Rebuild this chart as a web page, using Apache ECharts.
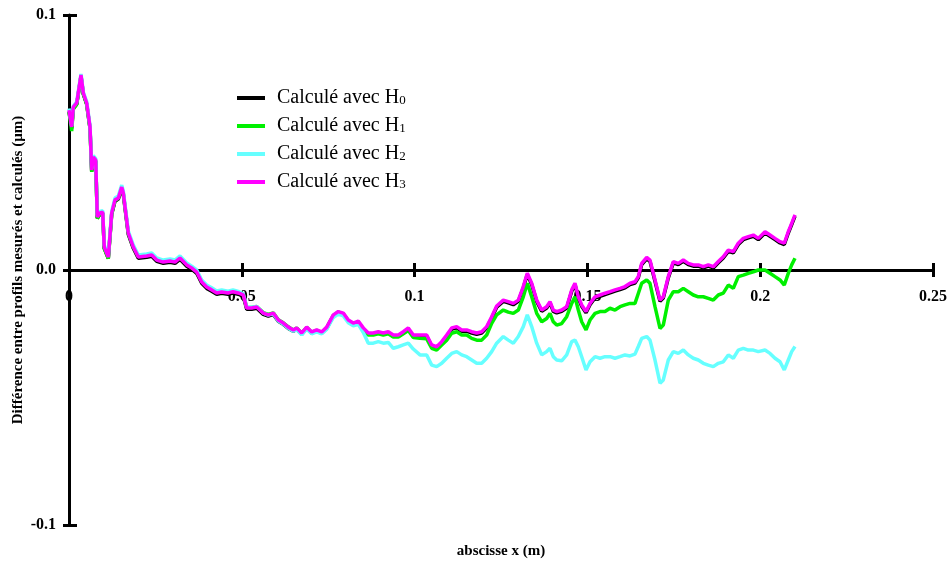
<!DOCTYPE html>
<html><head><meta charset="utf-8">
<script src="https://cdn.jsdelivr.net/npm/echarts@6/dist/echarts.min.js"></script>
<style>html,body{margin:0;padding:0;background:#fff}#c{width:951px;height:569px}</style>
</head><body><div id="c"></div>
<script>
var xs = [0,0.00078,0.00124,0.00223,0.00347,0.00414,0.00512,0.00608,0.00657,0.00703,0.00773,0.00819,0.00897,0.00975,0.01021,0.01137,0.01236,0.01331,0.01427,0.01525,0.01571,0.01716,0.01861,0.02005,0.02248,0.02393,0.02538,0.02729,0.02923,0.03067,0.03212,0.03406,0.0355,0.03695,0.0384,0.03984,0.04129,0.04274,0.04418,0.04601,0.04745,0.04899,0.05043,0.05142,0.05286,0.05431,0.05622,0.05767,0.05911,0.06056,0.06201,0.06345,0.0649,0.06589,0.06733,0.06878,0.07023,0.07167,0.07312,0.07457,0.07648,0.07792,0.07937,0.08082,0.08226,0.08371,0.08516,0.0866,0.08805,0.0895,0.09094,0.09239,0.09384,0.09528,0.09673,0.09818,0.09962,0.10156,0.1035,0.10495,0.10639,0.10784,0.10929,0.11073,0.11218,0.11363,0.11507,0.11652,0.11797,0.11941,0.12086,0.12231,0.12375,0.12566,0.12711,0.12856,0.13001,0.13145,0.13261,0.13388,0.13533,0.13678,0.13822,0.13918,0.14013,0.14112,0.14256,0.14401,0.14546,0.14641,0.14737,0.14835,0.1496,0.15076,0.1522,0.15365,0.1551,0.15654,0.15799,0.15944,0.16088,0.16233,0.16377,0.16473,0.16571,0.16716,0.16811,0.16956,0.17101,0.17196,0.17341,0.17486,0.1763,0.17775,0.1792,0.18064,0.18209,0.18354,0.18498,0.18643,0.18788,0.18932,0.19077,0.19222,0.19366,0.19511,0.19656,0.19801,0.19945,0.20139,0.20284,0.20428,0.20573,0.20697,0.20813,0.20911,0.21007];

var h0 = [0.0622,0.0555,0.0634,0.065,0.0761,0.069,0.065,0.0556,0.0387,0.0438,0.0426,0.0203,0.0219,0.0222,0.0085,0.0046,0.0219,0.027,0.0278,0.032,0.0297,0.014,0.0085,0.0046,0.005,0.0054,0.0034,0.0026,0.003,0.0026,0.0042,0.0015,0.0003,-0.0013,-0.0052,-0.0072,-0.0083,-0.0095,-0.0091,-0.0095,-0.009,-0.0095,-0.0103,-0.0154,-0.0154,-0.015,-0.0174,-0.0181,-0.0174,-0.0201,-0.0213,-0.0229,-0.024,-0.0232,-0.0252,-0.0229,-0.0248,-0.024,-0.0248,-0.0229,-0.0181,-0.0168,-0.0174,-0.0201,-0.0213,-0.0205,-0.0232,-0.0252,-0.0252,-0.0247,-0.0252,-0.0247,-0.026,-0.026,-0.0247,-0.0232,-0.026,-0.026,-0.026,-0.0299,-0.0306,-0.0286,-0.026,-0.0232,-0.0227,-0.024,-0.024,-0.0247,-0.0252,-0.0247,-0.0227,-0.0188,-0.0146,-0.0123,-0.0129,-0.0136,-0.0123,-0.007,-0.0018,-0.0057,-0.0123,-0.0162,-0.0149,-0.0129,-0.0162,-0.0168,-0.0162,-0.0149,-0.0083,-0.0057,-0.011,-0.0142,-0.0168,-0.0136,-0.011,-0.0103,-0.0096,-0.009,-0.0083,-0.0077,-0.007,-0.0057,-0.0051,-0.0031,0.0021,0.0044,0.0034,-0.0044,-0.0123,-0.011,-0.0031,0.0028,0.0021,0.0034,0.0021,0.0015,0.0015,0.0008,0.0015,0.0008,0.0028,0.0047,0.0073,0.0067,0.01,0.0119,0.0126,0.0132,0.0119,0.0145,0.0132,0.0119,0.0106,0.01,0.0145,0.0178,0.0211];

var h1 = [0.062,0.0545,0.0631,0.0649,0.0761,0.069,0.065,0.0555,0.0385,0.0438,0.0426,0.0202,0.022,0.0223,0.0084,0.0045,0.022,0.0272,0.0281,0.0324,0.0301,0.0144,0.009,0.0053,0.0057,0.0061,0.0042,0.0034,0.0038,0.0034,0.0049,0.0023,0.001,-0.0005,-0.0044,-0.0064,-0.0075,-0.0087,-0.0083,-0.0087,-0.0082,-0.0088,-0.0096,-0.0147,-0.0147,-0.0143,-0.0167,-0.0174,-0.0168,-0.0195,-0.0207,-0.0223,-0.0235,-0.0227,-0.0247,-0.0225,-0.0244,-0.0237,-0.0245,-0.0226,-0.0178,-0.0165,-0.0172,-0.0199,-0.0212,-0.0205,-0.0233,-0.0255,-0.0255,-0.025,-0.0255,-0.025,-0.0263,-0.0263,-0.025,-0.0237,-0.0265,-0.0268,-0.027,-0.0307,-0.0314,-0.0294,-0.0275,-0.0248,-0.0242,-0.0255,-0.0255,-0.0268,-0.0275,-0.0275,-0.0255,-0.0209,-0.0176,-0.0157,-0.0165,-0.017,-0.0157,-0.0105,-0.0052,-0.0105,-0.017,-0.0203,-0.019,-0.017,-0.0203,-0.0216,-0.021,-0.0183,-0.0131,-0.0105,-0.0157,-0.0203,-0.0235,-0.0196,-0.017,-0.0163,-0.0163,-0.015,-0.0157,-0.0144,-0.0137,-0.0131,-0.0131,-0.0092,-0.0052,-0.0039,-0.0052,-0.0144,-0.0229,-0.0216,-0.0118,-0.0085,-0.0085,-0.0072,-0.0085,-0.0098,-0.0105,-0.0105,-0.0111,-0.0118,-0.0098,-0.0091,-0.0059,-0.0072,-0.0026,-0.002,-0.0013,-0.0007,0.0,0.0,-0.0013,-0.0026,-0.0039,-0.0059,-0.0013,0.002,0.0046];

var h2 = [0.0633,0.0565,0.0642,0.0659,0.0769,0.0698,0.066,0.0566,0.0398,0.0449,0.0437,0.0214,0.023,0.0233,0.0097,0.0058,0.0231,0.0282,0.029,0.0333,0.031,0.0153,0.0098,0.0059,0.0063,0.0067,0.0047,0.0039,0.0043,0.0039,0.0055,0.0028,0.0015,0.0,-0.0039,-0.0059,-0.007,-0.0082,-0.0078,-0.0083,-0.0078,-0.0084,-0.0093,-0.0145,-0.0146,-0.0143,-0.0169,-0.0177,-0.0172,-0.02,-0.0212,-0.0228,-0.024,-0.0234,-0.0254,-0.0232,-0.025,-0.0243,-0.025,-0.0232,-0.0186,-0.0173,-0.018,-0.0207,-0.0219,-0.0213,-0.0245,-0.0287,-0.0287,-0.0281,-0.0287,-0.0284,-0.0307,-0.0301,-0.0294,-0.0287,-0.031,-0.0333,-0.0333,-0.0373,-0.0379,-0.0366,-0.0346,-0.0327,-0.032,-0.0333,-0.034,-0.0353,-0.0366,-0.0366,-0.0346,-0.032,-0.0287,-0.0261,-0.0275,-0.0287,-0.0261,-0.0222,-0.0176,-0.0222,-0.0287,-0.0333,-0.032,-0.0307,-0.034,-0.0353,-0.0356,-0.0333,-0.0281,-0.0275,-0.0301,-0.034,-0.0392,-0.036,-0.034,-0.0346,-0.034,-0.034,-0.0346,-0.034,-0.0333,-0.0337,-0.033,-0.03,-0.0268,-0.0261,-0.0275,-0.0353,-0.0444,-0.0431,-0.0353,-0.032,-0.0327,-0.0314,-0.0333,-0.0346,-0.0353,-0.0366,-0.0373,-0.0379,-0.0366,-0.036,-0.0333,-0.0346,-0.0314,-0.0307,-0.0314,-0.0314,-0.032,-0.0314,-0.0327,-0.0346,-0.036,-0.0392,-0.0353,-0.032,-0.03];

var h3 = [0.0627,0.0561,0.0639,0.0655,0.0765,0.0694,0.0655,0.0561,0.0392,0.0443,0.0431,0.0208,0.0224,0.0227,0.009,0.0051,0.0224,0.0275,0.0282,0.0325,0.0302,0.0145,0.009,0.0051,0.0055,0.0059,0.0039,0.0031,0.0035,0.0031,0.0047,0.002,0.0008,-0.0008,-0.0047,-0.0067,-0.0078,-0.009,-0.0086,-0.009,-0.0085,-0.009,-0.0098,-0.0149,-0.0149,-0.0145,-0.0169,-0.0176,-0.0169,-0.0196,-0.0208,-0.0224,-0.0235,-0.0227,-0.0247,-0.0224,-0.0243,-0.0235,-0.0243,-0.0224,-0.0176,-0.0163,-0.0169,-0.0196,-0.0208,-0.02,-0.0227,-0.0247,-0.0247,-0.0242,-0.0247,-0.0242,-0.0255,-0.0255,-0.0242,-0.0227,-0.0255,-0.0255,-0.0255,-0.0294,-0.0301,-0.0281,-0.0255,-0.0227,-0.0222,-0.0235,-0.0235,-0.0242,-0.0247,-0.0242,-0.0222,-0.0183,-0.0141,-0.0118,-0.0124,-0.0131,-0.0118,-0.0065,-0.0013,-0.0052,-0.0118,-0.0157,-0.0144,-0.0124,-0.0157,-0.0163,-0.0157,-0.0144,-0.0078,-0.0052,-0.0105,-0.0137,-0.0163,-0.0131,-0.0105,-0.0098,-0.0091,-0.0085,-0.0078,-0.0072,-0.0065,-0.0052,-0.0046,-0.0026,0.0026,0.0049,0.0039,-0.0039,-0.0118,-0.0105,-0.0026,0.0033,0.0026,0.0039,0.0026,0.002,0.002,0.0013,0.002,0.0013,0.0033,0.0052,0.0078,0.0072,0.0105,0.0124,0.0131,0.0137,0.0124,0.015,0.0137,0.0124,0.0111,0.0105,0.015,0.0183,0.0216];

var seriesNames = ['Calculé avec H0','Calculé avec H1','Calculé avec H2','Calculé avec H3'];
var seriesColors = ['#000000','#00f000','#66ffff','#ff00ff'];
var seriesData = [h0,h1,h2,h3];

var xTicks = {min:0, max:0.25, interval:0.05};
var yTicks = {min:-0.1, max:0.1, interval:0.1};
var xTitle = 'abscisse x (m)';
var yTitle = 'Différence entre profils mesurés et calculés (µm)';

var FONT = 'Liberation Serif';
var chart = echarts.init(document.getElementById('c'), null, {renderer:'canvas'});

var series = seriesData.map(function(arr, k){
  return {
    name: seriesNames[k], type:'line', showSymbol:false, symbol:'none',
    xAxisIndex:0, yAxisIndex:0,
    data: xs.map(function(x,i){ return [x, arr[i]]; }),
    lineStyle:{color:seriesColors[k], width:3.5}, itemStyle:{color:seriesColors[k]},
    z: 2 + k, animation:false
  };
});

var tickStyle = {color:'#000', width:3};
chart.setOption({
  animation:false,
  backgroundColor:'#fff',
  grid:[
    {left:69, right:18, top:15, bottom:44, containLabel:false, outerBoundsMode:'none'},
    {left:69, right:18, top:15, bottom:299, containLabel:false, outerBoundsMode:'none'}
  ],
  legend:{
    left:237, top:85, padding:0, orient:'vertical', itemWidth:28, itemHeight:4, itemGap:5,
    icon:'rect',
    data: seriesNames,
    formatter:function(n){ return '{t|' + n.slice(0,-1) + '}{s|' + n.slice(-1) + '}'; },
    textStyle:{
      padding:[0,0,0,7],
      rich:{
        t:{fontFamily:FONT, fontSize:20, color:'#000', lineHeight:18},
        s:{fontFamily:FONT, fontSize:13, color:'#000', lineHeight:18, verticalAlign:'bottom', padding:[9,0,0,0]}
      }
    }
  },
  xAxis:[{
    gridIndex:0, type:'value', min:xTicks.min, max:xTicks.max, interval:xTicks.interval,
    show:false
  },{
    gridIndex:1, type:'value', min:xTicks.min, max:xTicks.max, interval:xTicks.interval, position:'bottom',
    axisLine:{show:true, onZero:false, lineStyle:{color:'#000', width:3}},
    axisTick:{show:true, inside:false, length:7, lineStyle:tickStyle},
    axisLabel:{fontFamily:FONT, fontWeight:'bold', fontSize:16, color:'#000', margin:19},
    splitLine:{show:false}
  },{
    gridIndex:1, type:'value', min:xTicks.min, max:xTicks.max, interval:xTicks.interval, position:'bottom',
    axisLine:{show:false, onZero:false},
    axisTick:{show:true, inside:true, length:7, lineStyle:tickStyle},
    axisLabel:{show:false}, splitLine:{show:false}
  }],
  yAxis:[{
    gridIndex:0, type:'value', min:yTicks.min, max:yTicks.max, interval:yTicks.interval, position:'left',
    axisLine:{show:true, onZero:false, lineStyle:{color:'#000', width:3}},
    axisTick:{show:true, inside:false, length:6, lineStyle:tickStyle},
    axisLabel:{fontFamily:FONT, fontWeight:'bold', fontSize:16, color:'#000', margin:13,
      formatter:function(v){ return v.toFixed(1); }},
    splitLine:{show:false}
  },{
    gridIndex:0, type:'value', min:yTicks.min, max:yTicks.max, interval:yTicks.interval, position:'left',
    axisLine:{show:false, onZero:false},
    axisTick:{show:true, inside:true, length:8, lineStyle:tickStyle},
    axisLabel:{show:false}, splitLine:{show:false}
  },{
    gridIndex:1, type:'value', min:0, max:0.1, show:false
  }],
  graphic:[{
    type:'text', x:501, y:551,
    style:{text:xTitle, fontFamily:FONT, fontWeight:'bold', fontSize:15, fill:'#000', align:'center', verticalAlign:'middle'}
  },{
    type:'text', x:18, y:270, rotation:Math.PI/2,
    style:{text:yTitle, fontFamily:FONT, fontWeight:'bold', fontSize:15, fill:'#000', align:'center', verticalAlign:'middle'}
  }],
  series: series
});
</script>
</body></html>
